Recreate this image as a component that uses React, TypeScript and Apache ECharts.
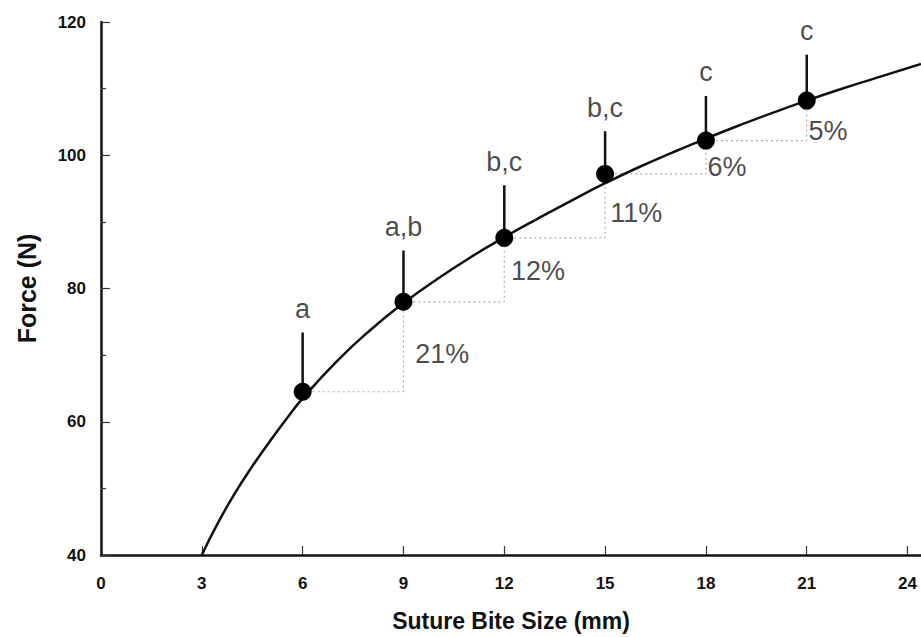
import React, { useEffect, useRef } from "react";
import * as echarts from "echarts";

// Mean force at each bite size
const biteSizes = [6, 9, 12, 15, 18, 21];
const meanForce = [64.5, 78, 87.6, 97.2, 102.2, 108.2];
// Top of the (upward) error bars
const errorTop = [73.4, 85.7, 95.5, 103.6, 108.9, 115.1];
// Significance letters
const groupLetters = ["a", "a,b", "b,c", "b,c", "c", "c"];
// Percentage increase labels (placed by the step to the next bite size)
const pctLabels = ["21%", "12%", "11%", "6%", "5%"];
const pctLabelX = [9.35, 12.2, 15.15, 18.05, 21.05];
const pctLabelY = [70.2, 82.6, 91.4, 98.3, 103.6];
// Fitted curve
const curveX = [3, 3.5, 4, 4.5, 5, 5.5, 6, 7, 8, 9, 10, 11, 12, 13, 14, 15, 16, 17, 18, 19, 20, 21, 22, 23, 24.4];
const curveY = [40, 45.0, 49.4, 53.3, 56.9, 60.3, 63.5, 69.0, 73.7, 77.8, 81.4, 84.7, 87.7, 90.5, 93.2, 95.8, 98.2, 100.4, 102.5, 104.5, 106.4, 108.2, 109.9, 111.5, 113.7];
// Axis ticks
const xTicks = [0, 3, 6, 9, 12, 15, 18, 21, 24];
const yTicks = [40, 60, 80, 100, 120];

export default function App() {
  const ref = useRef<HTMLDivElement>(null);

  useEffect(() => {
    if (!ref.current) return;
    const chart = echarts.init(ref.current, null, { renderer: "svg" });

    const stepData: any[] = [];
    for (let i = 0; i < biteSizes.length - 1; i++) {
      stepData.push([biteSizes[i], meanForce[i]]);
      stepData.push([biteSizes[i + 1], meanForce[i]]);
      stepData.push([biteSizes[i + 1], meanForce[i + 1]]);
      stepData.push("-");
    }

    const font = "'Liberation Sans', Arial, Helvetica, sans-serif";

    chart.setOption({
      animation: false,
      backgroundColor: "#ffffff",
      grid: { left: 101, right: 0, top: 22, bottom: 72, containLabel: false },
      xAxis: {
        type: "value",
        min: 0,
        max: 24.4,
        interval: 3,
        name: "Suture Bite Size (mm)",
        nameLocation: "middle",
        nameGap: 54,
        nameTextStyle: { fontFamily: font, fontWeight: "bold", fontSize: 23, color: "#111" },
        axisLine: { show: true, onZero: false, lineStyle: { color: "#111", width: 2.5 } },
        axisTick: { show: true, inside: true, length: 9, lineStyle: { color: "#333", width: 1.2 }, customValues: xTicks.slice(1) },
        axisLabel: {
          fontFamily: font,
          fontWeight: "bold",
          fontSize: 17,
          color: "#111",
          margin: 20,
          customValues: xTicks,
        },
        splitLine: { show: false },
      },
      yAxis: {
        type: "value",
        min: 40,
        max: 120,
        interval: 20,
        name: "Force (N)",
        nameLocation: "middle",
        nameGap: 62,
        nameRotate: 90,
        nameTextStyle: { fontFamily: font, fontWeight: "bold", fontSize: 25, color: "#111" },
        axisLine: { show: true, onZero: false, lineStyle: { color: "#111", width: 2.5 } },
        axisTick: { show: true, inside: true, length: 9, lineStyle: { color: "#333", width: 1.2 } },
        minorTick: { show: true, splitNumber: 2, length: 5, lineStyle: { color: "#333", width: 1.2 } },
        axisLabel: {
          fontFamily: font,
          fontWeight: "bold",
          fontSize: 17,
          color: "#111",
          margin: 15,
          customValues: yTicks,
        },
        splitLine: { show: false },
      },
      series: [
        {
          type: "line",
          data: stepData,
          showSymbol: false,
          symbol: "none",
          connectNulls: false,
          lineStyle: { color: "#aaaaaa", width: 1.2, type: [2, 3] },
          z: 1,
        },
        {
          type: "line",
          data: curveX.map((x, i) => [x, curveY[i]]),
          smooth: true,
          showSymbol: false,
          symbol: "none",
          lineStyle: { color: "#111", width: 2.5 },
          z: 2,
        },
        {
          type: "custom",
          data: biteSizes.map((x, i) => [x, meanForce[i], errorTop[i]]),
          renderItem: (params: any, api: any) => {
            const p0 = api.coord([api.value(0), api.value(1)]);
            const p1 = api.coord([api.value(0), api.value(2)]);
            return {
              type: "line",
              shape: { x1: p0[0], y1: p0[1], x2: p1[0], y2: p1[1] },
              style: { stroke: "#111", lineWidth: 2.5 },
            };
          },
          z: 3,
        },
        {
          type: "scatter",
          data: biteSizes.map((x, i) => [x, meanForce[i]]),
          symbol: "circle",
          symbolSize: 18,
          itemStyle: { color: "#000", opacity: 1 },
          z: 4,
        },
        {
          type: "scatter",
          data: biteSizes.map((x, i) => ({ value: [x, errorTop[i]], name: groupLetters[i] })),
          symbolSize: 0,
          label: {
            show: true,
            position: "top",
            distance: 10,
            formatter: (p: any) => p.name,
            fontFamily: font,
            fontSize: 27,
            color: "#1a1a1a",
          },
          z: 5,
        },
        {
          type: "scatter",
          data: pctLabelX.map((x, i) => ({ value: [x, pctLabelY[i]], name: pctLabels[i] })),
          symbolSize: 0,
          label: {
            show: true,
            position: "right",
            distance: 0,
            formatter: (p: any) => p.name,
            fontFamily: font,
            fontSize: 27,
            color: "#1a1a1a",
          },
          z: 5,
        },
      ],
    });

    return () => chart.dispose();
  }, []);

  return (
    <div
      ref={ref}
      style={{ position: "fixed", left: 0, top: 0, width: 921, height: 637, background: "#fff" }}
    />
  );
}
